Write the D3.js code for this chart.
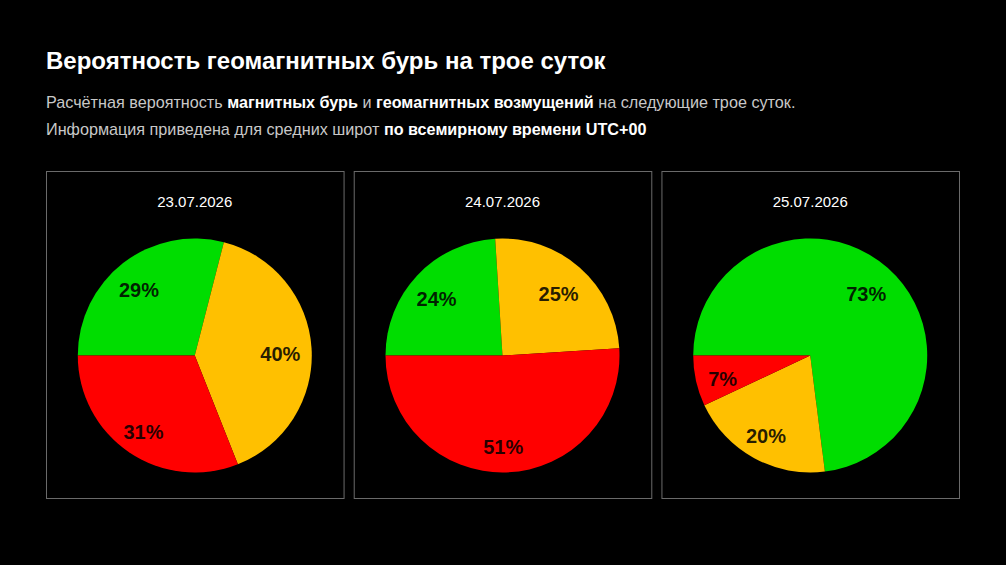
<!DOCTYPE html>
<html>
<head>
<meta charset="utf-8">
<script src="https://cdn.jsdelivr.net/npm/d3@7"></script>
<style>
  body { margin: 0; background: #000; }
  svg { display: block; font-family: "Liberation Sans", Arial, sans-serif; }
</style>
</head>
<body>
<div id="chart"></div>
<script>
// data
var dates = ["23.07.2026", "24.07.2026", "25.07.2026"];
var calmValues = [29, 24, 73];
var disturbValues = [40, 25, 20];
var stormValues = [31, 51, 7];
var levelColors = ["#00dd00", "#ffc000", "#ff0000"];

var titleText = "Вероятность геомагнитных бурь на трое суток";
var subLine1 = [["Расчётная вероятность ", false], ["магнитных бурь", true], [" и ", false],
                ["геомагнитных возмущений", true], [" на следующие трое суток.", false]];
var subLine2 = [["Информация приведена для средних широт ", false], ["по всемирному времени UTC+00", true]];

var w = 1006, h = 565;
var svg = d3.select("#chart").append("svg").attr("width", w).attr("height", h);
svg.append("rect").attr("width", w).attr("height", h).attr("fill", "#000");

svg.append("text")
  .attr("x", 46).attr("y", 69)
  .attr("fill", "#fff")
  .attr("font-size", 24)
  .attr("font-weight", "bold")
  .text(titleText);

function addLine(parts, y) {
  var t = svg.append("text").attr("x", 46).attr("y", y).attr("font-size", 16.2);
  parts.forEach(function(p) {
    t.append("tspan")
      .attr("fill", p[1] ? "#fff" : "#c8c8c8")
      .attr("font-weight", p[1] ? "bold" : "normal")
      .text(p[0]);
  });
}
addLine(subLine1, 108);
addLine(subLine2, 135);

// panels
var panelX = d3.scaleBand().domain(dates).range([46, 959]).paddingInner(0.033);
var panelTop = 171, panelH = 327;
var radius = 117;

var pie = d3.pie().sort(null).value(function(d) { return d.value; })
  .startAngle(-Math.PI / 2).endAngle(Math.PI * 1.5);
var arc = d3.arc().innerRadius(0).outerRadius(radius);
var labelArc = d3.arc().innerRadius(radius * 0.75).outerRadius(radius * 0.75);

dates.forEach(function(date, i) {
  var slices = [
    { name: "calm", value: calmValues[i], color: levelColors[0] },
    { name: "disturbance", value: disturbValues[i], color: levelColors[1] },
    { name: "storm", value: stormValues[i], color: levelColors[2] }
  ];
  var px = panelX(date), pw = panelX.bandwidth();
  var g = svg.append("g");
  g.append("rect")
    .attr("x", px + 0.5).attr("y", panelTop + 0.5)
    .attr("width", pw).attr("height", panelH)
    .attr("fill", "none").attr("stroke", "#6a6a6a");
  g.append("text")
    .attr("x", px + pw / 2).attr("y", 207)
    .attr("text-anchor", "middle")
    .attr("fill", "#fff").attr("font-size", 15)
    .text(date);

  var pg = g.append("g").attr("transform", "translate(" + (px + pw / 2) + ",355.5)");
  var arcs = pie(slices);
  pg.selectAll("path").data(arcs).enter().append("path")
    .attr("d", arc).attr("fill", function(d) { return d.data.color; });
  pg.selectAll("text").data(arcs).enter().append("text")
    .attr("transform", function(d) { return "translate(" + labelArc.centroid(d) + ")"; })
    .attr("dx", -2)
    .attr("dy", "0.55em")
    .attr("text-anchor", "middle")
    .attr("font-size", 20).attr("font-weight", "bold")
    .attr("fill", "#000").attr("fill-opacity", 0.85)
    .text(function(d) { return d.data.value + "%"; });
});
</script>
</body>
</html>
